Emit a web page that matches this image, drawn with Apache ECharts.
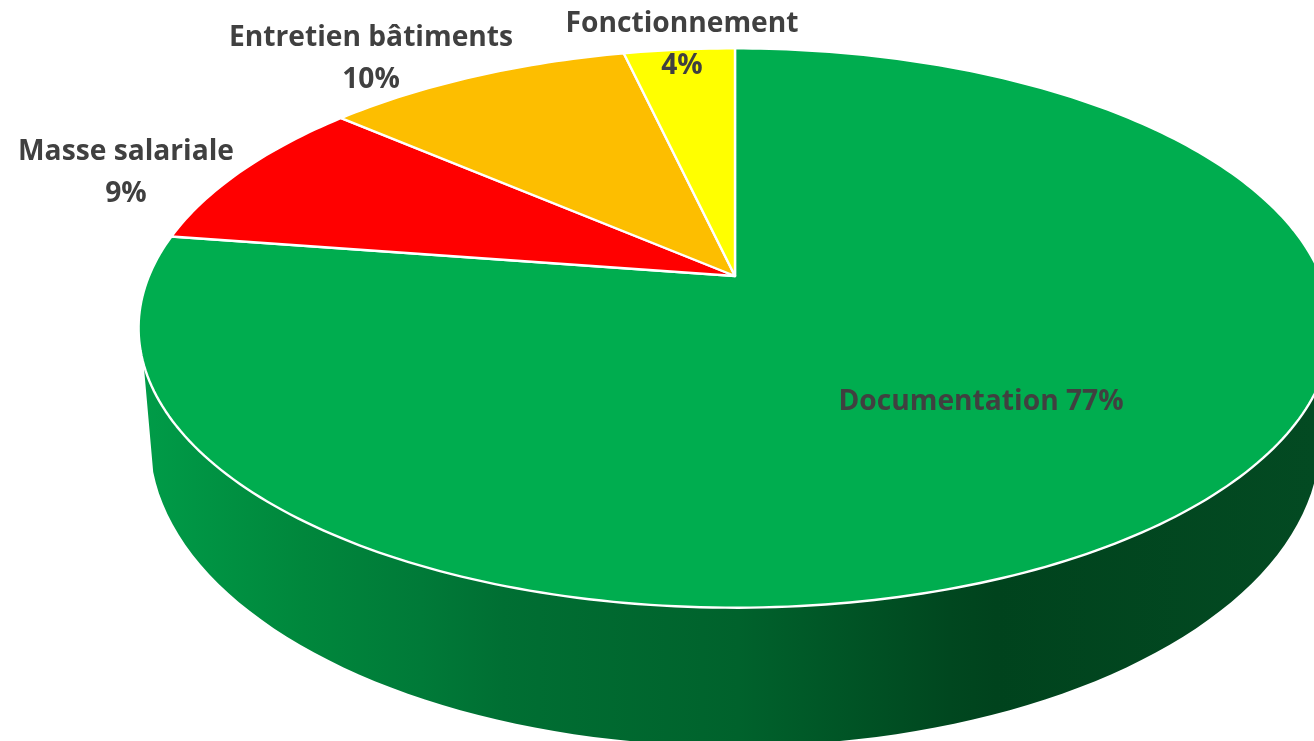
<!DOCTYPE html>
<html>
<head>
<meta charset="utf-8">
<style>
  html, body { margin: 0; padding: 0; background: #fff; }
  #chart { width: 1314px; height: 741px; }
</style>
<script src="https://cdn.jsdelivr.net/npm/echarts@6/dist/echarts.min.js"></script>
</head>
<body>
<div id="chart"></div>
<script>
const categories = ['Documentation', 'Masse salariale', 'Entretien bâtiments', 'Fonctionnement'];
// estimated from the slice edges, the labels show them rounded
const shares = [77.4, 9, 10, 3.6];
const sliceColors = ['#00AD4F', '#FF0000', '#FDBE00', '#FFFF00'];
// label anchors, one per slice
const labelAnchors = [[981, 402], [126, 173], [371, 59], [682, 45]];

let myChart = echarts.init(document.getElementById('chart'), null, { renderer: 'canvas' });
const total = shares.reduce((a, b) => a + b, 0);

// tilted disc: apex sits above the middle of the ellipse because of the perspective
const apex = [735, 276];
const spreadX = 586;
const spreadY = 270;
const persp = 0.186;
// lower edge of the wall, narrower and rounder than the top
const base = { cx: 735, cy: 440, rx: 585, ry: 306 };

// turn = 0 at 12 o'clock, going clockwise, 1 = full circle
function rim(turn) {
  const a = turn * Math.PI * 2;
  const u = Math.sin(a);
  const v = Math.cos(a);
  const d = 1 + persp * v;
  return [apex[0] + (spreadX * u) / d, apex[1] - (spreadY * v) / d];
}

function arc(from, to) {
  const pts = [];
  const n = Math.max(2, Math.ceil(Math.abs(to - from) * 360));
  for (let i = 0; i <= n; i++) {
    pts.push(rim(from + ((to - from) * i) / n));
  }
  return pts;
}

function baseArc() {
  const pts = [];
  for (let deg = 174; deg >= 6; deg -= 2) {
    const a = (deg * Math.PI) / 180;
    pts.push([base.cx + base.rx * Math.cos(a), base.cy + base.ry * Math.sin(a)]);
  }
  return pts;
}

const wallFill = new echarts.graphic.LinearGradient(139, 0, 1314, 0, [
  { offset: 0, color: '#009C48' },
  { offset: 0.14, color: '#00873C' },
  { offset: 0.24, color: '#007A38' },
  { offset: 0.31, color: '#006F33' },
  { offset: 0.51, color: '#00622C' },
  { offset: 0.69, color: '#00471F' },
  { offset: 0.73, color: '#00431D' },
  { offset: 1, color: '#034A22' },
], true);

let option = {
  animation: false,
  backgroundColor: '#ffffff',
  series: [
    {
      // side wall under the front of the disc
      name: 'wall',
      type: 'custom',
      coordinateSystem: 'none',
      silent: true,
      data: [0],
      renderItem() {
        return {
          type: 'polygon',
          shape: { points: arc(0.3, 0.7).concat(baseArc()) },
          style: { fill: wallFill },
        };
      },
    },
    {
      name: 'slices',
      type: 'custom',
      coordinateSystem: 'none',
      silent: true,
      data: shares,
      renderItem(params, api) {
        const i = params.dataIndex;
        // the last slice ends at 12 o'clock, the others stack before it
        const after = shares.slice(i + 1).reduce((a, b) => a + b, 0);
        const start = 1 - (after + api.value(0)) / total;
        const end = 1 - after / total;
        const points = [apex].concat(arc(start, end));
        const anchor = labelAnchors[i];
        const pct = Math.round(shares[i]) + '%';
        const text = i === 0 ? categories[i] + ' ' + pct : categories[i] + '\n' + pct;
        return {
          type: 'group',
          children: [
            {
              type: 'polygon',
              shape: { points },
              style: { fill: sliceColors[i], stroke: '#fff', lineWidth: 2.4, lineJoin: 'round' },
            },
            {
              type: 'text',
              z2: 10,
              style: {
                x: anchor[0],
                y: anchor[1],
                text,
                fill: '#404040',
                font: 'bold 28.2px "Open Sans"',
                lineHeight: 42,
                align: 'center',
                verticalAlign: 'middle',
              },
            },
          ],
        };
      },
    },
  ],
};
myChart.setOption(option);
</script>
</body>
</html>
